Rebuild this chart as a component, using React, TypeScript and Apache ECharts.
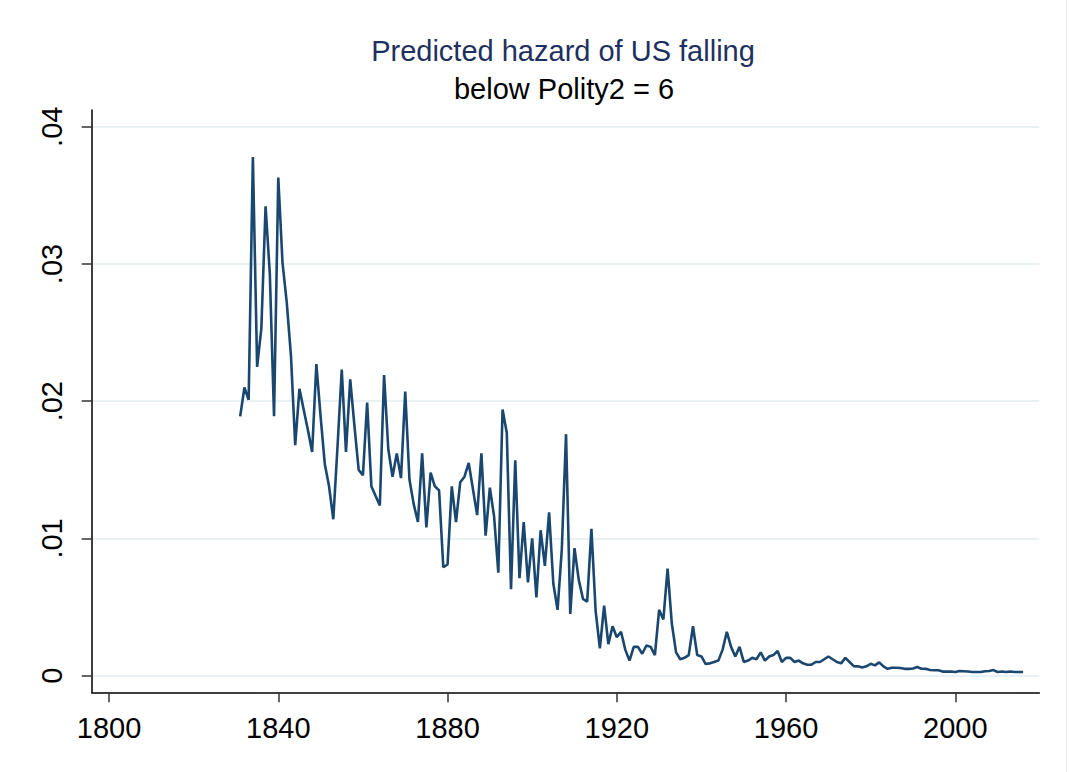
import React, { useEffect, useRef } from "react";
import * as echarts from "echarts";

const titleText = "Predicted hazard of US falling";
const subtitleText = "below Polity2 = 6";

const firstYear = 1831;
// predicted hazard, one value per year from 1831 to 2016
const hazard: number[] = [
  0.0189, 0.0210, 0.0201, 0.0378, 0.0225, 0.0253, 0.0342, 0.0293, 0.0189, // 1831-1839
  0.0363, 0.0301, 0.0272, 0.0233, 0.0168, 0.0209, 0.0194, 0.0179, 0.0163, 0.0227, // 1840-1849
  0.0189, 0.0154, 0.0138, 0.0114, 0.0167, 0.0223, 0.0163, 0.0216, 0.0182, 0.0150, // 1850-1859
  0.0146, 0.0199, 0.0138, 0.0131, 0.0124, 0.0219, 0.0165, 0.0145, 0.0162, 0.0144, // 1860-1869
  0.0207, 0.0143, 0.0125, 0.0112, 0.0162, 0.0108, 0.0148, 0.0138, 0.0135, 0.0079, // 1870-1879
  0.0081, 0.0138, 0.0112, 0.0141, 0.0145, 0.0155, 0.0136, 0.0117, 0.0162, 0.0102, // 1880-1889
  0.0137, 0.0116, 0.0075, 0.0194, 0.0177, 0.0063, 0.0157, 0.0071, 0.0112, 0.0068, // 1890-1899
  0.0100, 0.0057, 0.0106, 0.0080, 0.0119, 0.0067, 0.0048, 0.0092, 0.0176, 0.0045, // 1900-1909
  0.0093, 0.0070, 0.0056, 0.0054, 0.0107, 0.0047, 0.0020, 0.0051, 0.0023, 0.0036, // 1910-1919
  0.0028, 0.0032, 0.0019, 0.0011, 0.0021, 0.0021, 0.0016, 0.0022, 0.0021, 0.0015, // 1920-1929
  0.0048, 0.0041, 0.0078, 0.0038, 0.0017, 0.0012, 0.0013, 0.0015, 0.0036, 0.0015, // 1930-1939
  0.0014, 0.00085, 0.0009, 0.0010, 0.0011, 0.0019, 0.0032, 0.0021, 0.0014, 0.0021, // 1940-1949
  0.0010, 0.0011, 0.0013, 0.0012, 0.0017, 0.0011, 0.0014, 0.0015, 0.0018, 0.0010, // 1950-1959
  0.0013, 0.0013, 0.0010, 0.0011, 0.0009, 0.0008, 0.0008, 0.0010, 0.0010, 0.0012, // 1960-1969
  0.0014, 0.0012, 0.0010, 0.0009, 0.0013, 0.0010, 0.0007, 0.00068, 0.0006, 0.00068, // 1970-1979
  0.00087, 0.00075, 0.00097, 0.00068, 0.0005, 0.00058, 0.00058, 0.00056, 0.0005, 0.0005, // 1980-1989
  0.00053, 0.00063, 0.00051, 0.0005, 0.00041, 0.0004, 0.0004, 0.0003, 0.0003, 0.0003, // 1990-1999
  0.00027, 0.00034, 0.00032, 0.0003, 0.00027, 0.00027, 0.00027, 0.00032, 0.00034, 0.00041, // 2000-2009
  0.00027, 0.0003, 0.00027, 0.0003, 0.00027, 0.00027, 0.00027, // 2010-2016
];

const xTicks = [1800, 1840, 1880, 1920, 1960, 2000];
const yTicks = [0, 0.01, 0.02, 0.03, 0.04];

const FONT = "'Liberation Sans', Arial, Helvetica, sans-serif";

export default function App() {
  const ref = useRef<HTMLDivElement>(null);

  useEffect(() => {
    if (!ref.current) return;
    const chart = echarts.init(ref.current, undefined, { renderer: "svg" });
    const data = hazard.map((v, i) => [firstYear + i, v]);
    const fmtY = (v: number) => {
      if (Math.abs(v) < 1e-9) return "0";
      return v.toFixed(2).replace(/^0\./, ".");
    };
    chart.setOption({
      animation: false,
      backgroundColor: "#ffffff",
      grid: { left: 91.7, right: 29.7, top: 110, bottom: 79.7, containLabel: false },
      graphic: [
        {
          type: "text",
          x: 563,
          y: 51,
          style: {
            text: titleText,
            fill: "#1e305e",
            font: `29px ${FONT}`,
            align: "center",
            verticalAlign: "middle",
          },
        },
        {
          type: "text",
          x: 564,
          y: 89,
          style: {
            text: subtitleText,
            fill: "#000000",
            font: `29px ${FONT}`,
            align: "center",
            verticalAlign: "middle",
          },
        },
        {
          type: "line",
          shape: { x1: 1066.5, y1: 0, x2: 1066.5, y2: 772 },
          style: { stroke: "#ececec", lineWidth: 1 },
        },
      ],
      xAxis: {
        type: "value",
        min: 1795.91,
        max: 2019.84,
        axisLine: { show: true, onZero: false, lineStyle: { color: "#000", width: 1.5 } },
        axisTick: {
          show: true,
          length: 10,
          customValues: xTicks,
          lineStyle: { color: "#333", width: 1.5 },
        },
        axisLabel: {
          customValues: xTicks,
          color: "#000",
          fontFamily: FONT,
          fontSize: 29,
          margin: 21,
          formatter: (v: number) => String(v),
        },
        splitLine: { show: false },
      },
      yAxis: {
        type: "value",
        min: -0.00121,
        max: 0.04122,
        axisLine: { show: true, lineStyle: { color: "#000", width: 1.5 } },
        axisTick: {
          show: true,
          length: 10,
          customValues: yTicks,
          lineStyle: { color: "#333", width: 1.5 },
        },
        axisLabel: {
          customValues: yTicks,
          color: "#000",
          fontFamily: FONT,
          fontSize: 29,
          rotate: 90,
          margin: 25,
          formatter: fmtY,
        },
        splitLine: {
          show: true,
          lineStyle: { color: "#e3edf1", width: 1.6 },
        },
      },
      series: [
        {
          type: "line",
          data,
          showSymbol: false,
          symbol: "none",
          lineStyle: { color: "#1a476f", width: 2.6 },
          silent: true,
        },
      ],
    });
    return () => chart.dispose();
  }, []);

  return (
    <div
      ref={ref}
      style={{ position: "fixed", left: 0, top: 0, width: 1069, height: 772, background: "#fff" }}
    />
  );
}
